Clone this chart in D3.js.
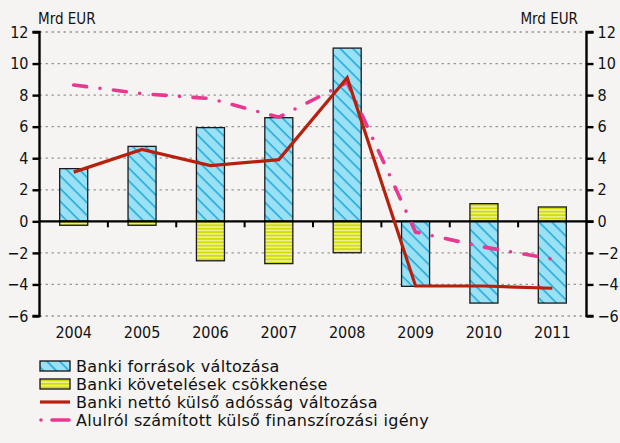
<!DOCTYPE html>
<html>
<head>
<meta charset="utf-8">
<script src="https://cdn.jsdelivr.net/npm/d3@7"></script>
<style>
  body { margin: 0; background: #f5f4f2; }
  svg text { font-family: "DejaVu Sans Condensed", "DejaVu Sans", sans-serif; fill: #111; }
</style>
</head>
<body>
<div id="chart"></div>
<script>
// Data (Mrd EUR)
var years = ["2004", "2005", "2006", "2007", "2008", "2009", "2010", "2011"];
var forrasok = [3.34, 4.75, 5.94, 6.57, 10.98, -4.12, -5.18, -5.18];      // Banki források változása
var kovetelesek = [-0.25, -0.25, -2.5, -2.68, -1.99, 0, 1.12, 0.91];      // Banki követelések csökkenése
var nettoAdossag = [3.12, 4.56, 3.53, 3.91, 9.1, -4.1, -4.1, -4.24];     // Banki nettó külső adósság változása
var finanszirozas = [8.64, 8.09, 7.78, 6.6, 8.8, -0.68, -1.63, -2.39];    // Alulról számított külső finanszírozási igény
var yTicks = [-6, -4, -2, 0, 2, 4, 6, 8, 10, 12];
var legendLabels = [
  "Banki források változása",
  "Banki követelések csökkenése",
  "Banki nettó külső adósság változása",
  "Alulról számított külső finanszírozási igény"
];

var W = 620, H = 443;
var svg = d3.select("#chart").append("svg").attr("width", W).attr("height", H);
svg.append("rect").attr("width", W).attr("height", H).attr("fill", "#f5f4f2");

var plotLeft = 39.5, plotRight = 586.5, plotTop = 32, plotBottom = 316;

var x = d3.scaleBand().domain(years).range([plotLeft, plotRight]).paddingInner(0).paddingOuter(0);
var y = d3.scaleLinear().domain([-6, 12]).range([plotBottom, plotTop]);
var barW = x.bandwidth() * 0.41;

// patterns
var defs = svg.append("defs");
var hatch = defs.append("pattern").attr("id", "hatch").attr("patternUnits", "userSpaceOnUse")
  .attr("width", 9).attr("height", 9).attr("patternTransform", "rotate(45)");
hatch.append("rect").attr("width", 9).attr("height", 9).attr("fill", "#9ae1f5");
hatch.append("line").attr("x1", 0).attr("y1", 0).attr("x2", 9).attr("y2", 0)
  .attr("stroke", "#1ba8da").attr("stroke-width", 3);

var stripes = defs.append("pattern").attr("id", "stripes").attr("patternUnits", "userSpaceOnUse")
  .attr("width", 6).attr("height", 3.4);
stripes.append("rect").attr("width", 6).attr("height", 3.4).attr("fill", "#eef09a");
stripes.append("rect").attr("width", 6).attr("height", 1.8).attr("fill", "#d2dc00");

// gridlines
svg.append("g").selectAll("line").data(yTicks.filter(function (d) { return d !== 0; }))
  .enter().append("line")
  .attr("x1", plotLeft).attr("x2", plotRight)
  .attr("y1", function (d) { return y(d); }).attr("y2", function (d) { return y(d); })
  .attr("stroke", "#9a9a9a").attr("stroke-width", 1.3).attr("stroke-dasharray", "2.5,3.5");

// bars
function drawBars(values, fill) {
  svg.append("g").selectAll("rect").data(values).enter().append("rect")
    .attr("x", function (d, i) { return x(years[i]) + (x.bandwidth() - barW) / 2; })
    .attr("y", function (d) { return y(Math.max(0, d)); })
    .attr("width", barW)
    .attr("height", function (d) { return Math.abs(y(d) - y(0)); })
    .attr("fill", fill)
    .attr("stroke", "#1a1a1a").attr("stroke-width", 1.3)
    .style("display", function (d) { return d === 0 ? "none" : null; });
}
drawBars(forrasok, "url(#hatch)");
drawBars(kovetelesek, "url(#stripes)");

// zero line & category ticks
svg.append("line").attr("x1", plotLeft).attr("x2", plotRight + 7).attr("y1", y(0)).attr("y2", y(0))
  .attr("stroke", "#000").attr("stroke-width", 2.2);
svg.append("g").selectAll("line").data(years.slice(1)).enter().append("line")
  .attr("x1", function (d) { return x(d); }).attr("x2", function (d) { return x(d); })
  .attr("y1", y(0)).attr("y2", y(0) + 6)
  .attr("stroke", "#000").attr("stroke-width", 2);

// lines
var line = d3.line()
  .x(function (d, i) { return x(years[i]) + x.bandwidth() / 2; })
  .y(function (d) { return y(d); });

svg.append("path").datum(finanszirozas).attr("d", line)
  .attr("fill", "none").attr("stroke", "#e8388f").attr("stroke-width", 3.6)
  .attr("stroke-linecap", "round").attr("stroke-dasharray", "13,13.5,0,13.5");

svg.append("path").datum(nettoAdossag).attr("d", line)
  .attr("fill", "none").attr("stroke", "#b8200e").attr("stroke-width", 3.2);

// axes
var fmt = function (d) { return d < 0 ? "\u2212" + Math.abs(d) : d; };
var yLeft = d3.axisLeft(y).tickValues(yTicks).tickSize(7).tickPadding(4).tickFormat(fmt);
var yRight = d3.axisRight(y).tickValues(yTicks).tickSize(7).tickPadding(4).tickFormat(fmt);

function styleAxis(g) {
  g.select(".domain").attr("stroke", "#000").attr("stroke-width", 2.4);
  g.selectAll(".tick line").attr("stroke", "#000").attr("stroke-width", 2.4);
  g.selectAll(".tick text").attr("font-size", 16).style("font-family", '"DejaVu Sans Condensed", sans-serif').attr("fill", "#111");
}
svg.append("g").attr("transform", "translate(" + plotLeft + ",0)").call(yLeft).call(styleAxis)
  .select(".domain").attr("d", "M-7," + plotTop + "H0V" + plotBottom + "H-7");
svg.append("g").attr("transform", "translate(" + plotRight + ",0)").call(yRight).call(styleAxis)
  .select(".domain").attr("d", "M7," + plotTop + "H0V" + plotBottom + "H7");

// year labels
svg.append("g").selectAll("text").data(years).enter().append("text")
  .attr("x", function (d) { return x(d) + x.bandwidth() / 2; })
  .attr("y", plotBottom + 22)
  .attr("text-anchor", "middle").attr("font-size", 16)
  .text(function (d) { return d; });

// unit labels
svg.append("text").attr("x", 38).attr("y", 24).attr("font-size", 15).text("Mrd EUR");
svg.append("text").attr("x", 578).attr("y", 24).attr("font-size", 15).attr("text-anchor", "end").text("Mrd EUR");

// legend
var lg = svg.append("g").attr("transform", "translate(40,366)");
var rowH = 18;
lg.selectAll("text").data(legendLabels).enter().append("text")
  .attr("x", 36).attr("y", function (d, i) { return i * rowH + 6; })
  .attr("font-size", 16).style("font-family", '"DejaVu Sans", sans-serif')
  .attr("letter-spacing", 0.3)
  .text(function (d) { return d; });
lg.append("rect").attr("x", 0).attr("y", -5).attr("width", 30).attr("height", 10)
  .attr("fill", "url(#hatch)").attr("stroke", "#111").attr("stroke-width", 1.3);
lg.append("rect").attr("x", 0).attr("y", rowH - 5).attr("width", 30).attr("height", 10)
  .attr("fill", "url(#stripes)").attr("stroke", "#111").attr("stroke-width", 1.3);
lg.append("line").attr("x1", 0).attr("x2", 30).attr("y1", 2 * rowH).attr("y2", 2 * rowH)
  .attr("stroke", "#b8200e").attr("stroke-width", 3.2);
lg.append("line").attr("x1", 1).attr("x2", 30).attr("y1", 3 * rowH).attr("y2", 3 * rowH)
  .attr("stroke", "#e8388f").attr("stroke-width", 3.6).attr("stroke-linecap", "round")
  .attr("stroke-dasharray", "0,11,17,20");
</script>
</body>
</html>
